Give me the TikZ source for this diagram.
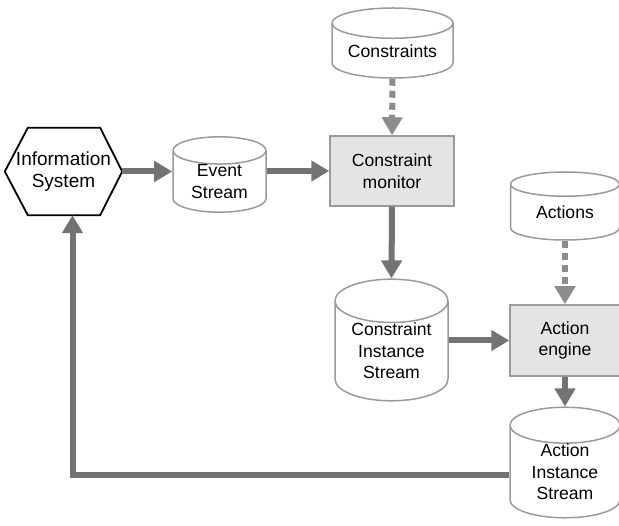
\documentclass[tikz,border=0pt]{standalone}
\usepackage{fontspec}
\setmainfont{Liberation Sans}
\usetikzlibrary{shapes.geometric,arrows.meta,positioning}
\definecolor{flowgray}{HTML}{737373}
\definecolor{dotgray}{HTML}{8C8C8C}
\definecolor{edgegray}{HTML}{9A9A9A}
\definecolor{boxfill}{HTML}{E4E4E4}
\tikzset{
  store/.style={cylinder, shape border rotate=90, aspect=0.45, anchor=shape center,
    draw=edgegray, line width=1.5pt, fill=white, align=center, inner sep=0pt},
  proc/.style={rectangle, draw=edgegray, line width=1.5pt, fill=boxfill, align=center},
  hexsys/.style={rectangle, minimum width=117pt, minimum height=87pt, inner sep=0pt,
    align=center, font=\fontsize{19}{21.5}\selectfont},
  flow/.style={draw=flowgray, line width=6pt, -{Triangle[length=18pt,width=20pt]}},
  feed/.style={flow, draw=dotgray, dash pattern=on 7pt off 5pt},
}
\begin{document}
\begin{tikzpicture}[x=1pt,y=-1pt,font=\fontsize{17.6}{21.5}\selectfont]
\useasboundingbox (0,0) rectangle (619,526);
\node[hexsys] (infosys) at (63.5,171.5) {Information\\System};
\draw[line width=1.8pt, line join=miter] (infosys.west) -- ([xshift=23pt]infosys.north west)
  -- ([xshift=-22pt]infosys.north east) -- (infosys.east)
  -- ([xshift=-22pt]infosys.south east) -- ([xshift=23pt]infosys.south west) -- cycle;
\node[store, aspect=0.48, minimum width=93pt, minimum height=73pt] (events) at (219.5,174.5) {Event\\Stream};
\node[proc, minimum width=124pt, minimum height=70pt] (monitor) at (392,171) {Constraint\\monitor};
\node[store, aspect=0.34, minimum width=121pt, minimum height=70pt] (constraints) at (392.5,43) {Constraints};
\node[store, aspect=0.54, minimum width=113pt, minimum height=114pt] (cinst) at (391.5,340) {Constraint\\Instance\\Stream};
\node[store, aspect=0.42, minimum width=109pt, minimum height=68pt] (actions) at (565,206) {Actions};
\node[proc, minimum width=110pt, minimum height=71pt] (engine) at (565,340.5) {Action\\engine};
\node[store, aspect=0.54, minimum width=110pt, minimum height=110pt] (ainst) at (565,462.5) {Action\\Instance\\Stream};

\draw[flow] (infosys.east) -- (infosys.east -| events.west);
\draw[flow] (events.east |- monitor.west) -- (monitor.west);
\draw[feed] (constraints.bottom) -- (monitor.north);
\draw[flow] (monitor.south) -- (cinst.top);
\draw[flow] (cinst.east |- engine.west) -- (engine.west);
\draw[feed] (actions.bottom) -- (engine.north);
\draw[flow] (engine.south) -- (ainst.top);
\draw[flow] ([yshift=-3pt]ainst.west) -| ([xshift=9pt]infosys.south);
\end{tikzpicture}
\end{document}
